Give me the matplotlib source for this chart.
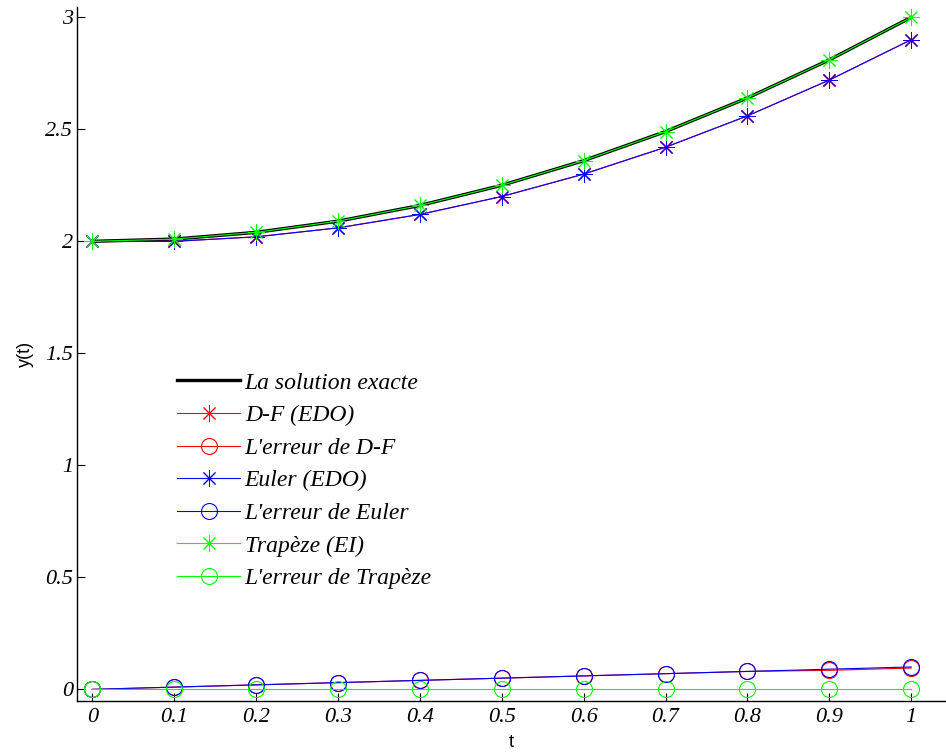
import numpy as np
import matplotlib.pyplot as plt

t = [0, 0.1, 0.2, 0.3, 0.4, 0.5, 0.6, 0.7, 0.8, 0.9, 1.0]
y_exact = [2.0, 2.01, 2.04, 2.09, 2.16, 2.25, 2.36, 2.49, 2.64, 2.81, 3.0]
y_df = [2.0, 2.0, 2.02, 2.06, 2.12, 2.2, 2.3, 2.42, 2.56, 2.72, 2.9]
err_df = [0, 0.01, 0.02, 0.03, 0.04, 0.05, 0.06, 0.07, 0.08, 0.085, 0.095]
y_euler = [2.0, 2.0, 2.02, 2.06, 2.12, 2.2, 2.3, 2.42, 2.56, 2.72, 2.9]
err_euler = [0, 0.01, 0.02, 0.03, 0.04, 0.05, 0.06, 0.07, 0.08, 0.09, 0.1]
y_trap = [2.0, 2.01, 2.04, 2.09, 2.16, 2.25, 2.36, 2.49, 2.64, 2.81, 3.0]
err_trap = [0, 0, 0, 0, 0, 0, 0, 0, 0, 0, 0]

xticks = [0, 0.1, 0.2, 0.3, 0.4, 0.5, 0.6, 0.7, 0.8, 0.9, 1]
xtick_labels = ['0', '0.1', '0.2', '0.3', '0.4', '0.5', '0.6', '0.7', '0.8', '0.9', '1']
yticks = [0, 0.5, 1, 1.5, 2, 2.5, 3]
ytick_labels = ['0', '0.5', '1', '1.5', '2', '2.5', '3']

star = (8, 2, 0)  # asterisk, + and x combined
lw = 0.8
mk = dict(ms=12, mew=0.7)
ring = dict(ms=11.5, mew=0.8, mfc='none')

fig = plt.figure(figsize=(9.46, 7.54), dpi=100)
ax = fig.add_axes([0.0819, 0.0703, 0.9181, 0.9204])

ax.plot(t, y_exact, color='k', lw=2.4, label='La solution exacte')
ax.plot(t, y_df, color='r', lw=lw, marker=star, label='D-F (EDO)', **mk)
ax.plot(t, err_df, color='r', lw=lw, marker='o', label="L'erreur de D-F", **ring)
ax.plot(t, y_euler, color='b', lw=lw, marker=star, label='Euler (EDO)', **mk)
ax.plot(t, err_euler, color='b', lw=lw, marker='o', label="L'erreur de Euler", **ring)
ax.plot(t, y_trap, color='#00ff00', lw=lw, marker=star, label='Trapèze (EI)', **mk)
ax.plot(t, err_trap, color='#00ff00', lw=lw, marker='o', label="L'erreur de Trapèze", **ring)

ax.set_xlim(-0.018, 1.0425)
ax.set_ylim(-0.052, 3.046)
ax.set_xticks(xticks)
ax.set_xticklabels(xtick_labels)
ax.set_yticks(yticks)
ax.set_yticklabels(ytick_labels)

for lbl in ax.get_xticklabels() + ax.get_yticklabels():
    lbl.set_fontfamily('Liberation Serif')
    lbl.set_fontstyle('italic')
    lbl.set_fontsize(16)
ax.tick_params(axis='x', direction='in', length=6, width=0.8, pad=5)
ax.tick_params(axis='y', direction='in', length=6, width=0.8, pad=3)

ax.spines['top'].set_visible(False)
ax.spines['right'].set_visible(False)
ax.spines['left'].set_linewidth(1.0)
ax.spines['bottom'].set_linewidth(1.0)

ax.set_xlabel('t', family='Liberation Sans', fontsize=13, labelpad=5)
ax.set_ylabel('y(t)', family='Liberation Sans', fontsize=13, labelpad=8)

ax.legend(loc='upper left', bbox_to_anchor=(0.1146, 0.474), frameon=False,
          borderpad=0, borderaxespad=0,
          prop=dict(family='Liberation Serif', style='italic', size=17),
          handlelength=2.67, handletextpad=0.2, labelspacing=0.47)

fig.savefig('out.png', dpi=100)
